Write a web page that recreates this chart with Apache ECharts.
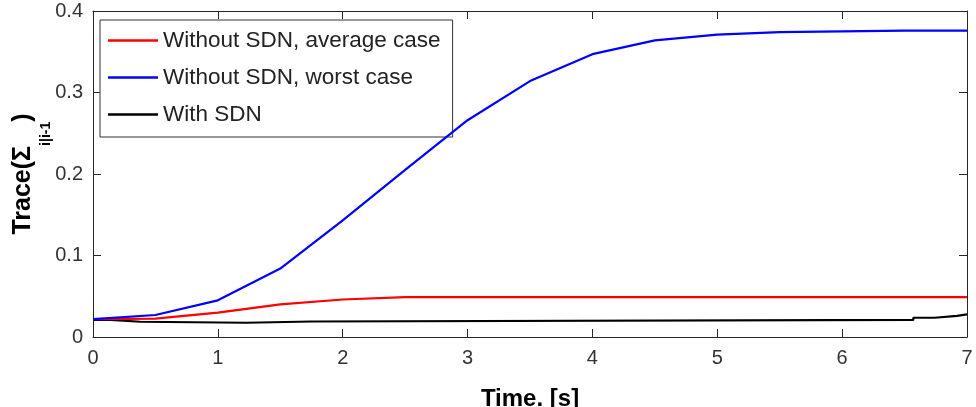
<!DOCTYPE html>
<html>
<head>
<meta charset="utf-8">
<script src="https://cdn.jsdelivr.net/npm/echarts@6/dist/echarts.min.js"></script>
<style>
  html, body { margin: 0; padding: 0; background: #fff; }
  #chart { width: 976px; height: 407px; }
</style>
</head>
<body>
<div id="chart"></div>
<script>
// Time grid [s] for the two "without SDN" runs
const timeSteps = [0, 0.5, 1, 1.5, 2, 2.5, 3, 3.5, 4, 4.5, 5, 5.5, 6, 6.5, 7];
const avgCase   = [0.022, 0.0225, 0.030, 0.040, 0.046, 0.049, 0.049, 0.049, 0.049, 0.049, 0.049, 0.049, 0.049, 0.049, 0.049];
const worstCase = [0.022, 0.027, 0.045, 0.084, 0.143, 0.205, 0.266, 0.314, 0.347, 0.364, 0.371, 0.374, 0.375, 0.376, 0.376];

// With SDN: piecewise-constant trace (value holds until next switch time)
const sdnTimes  = [0, 0.14, 0.38, 1.23, 1.75, 6.57, 6.74, 6.92, 7];
const sdnValues = [0.021, 0.0187, 0.0175, 0.019, 0.021, 0.0236, 0.026, 0.0277, 0.0277];

const xTicks = [0, 1, 2, 3, 4, 5, 6, 7];
const yTicks = [0, 0.1, 0.2, 0.3, 0.4];

const seriesNames = ['Without SDN, average case', 'Without SDN, worst case', 'With SDN'];

const pair = (xs, ys) => xs.map((x, i) => [x, ys[i]]);

const axisColor = '#262626';
const textFont = "'Liberation Sans', Arial, Helvetica, sans-serif";

// Boxed axes with inward ticks on all four sides
const boxAxis = () => ({
  axisLine: { show: true, onZero: false, lineStyle: { color: axisColor, width: 1 } },
  axisTick: { show: true, inside: true, length: 8, lineStyle: { color: axisColor } },
  splitLine: { show: false }
});

const chart = echarts.init(document.getElementById('chart'), null, { renderer: 'canvas' });

chart.setOption({
  animation: false,
  backgroundColor: '#fff',
  grid: { left: 93, right: 9, top: 11, bottom: 70, containLabel: false, outerBoundsMode: 'none' },
  xAxis: [
    Object.assign(boxAxis(), {
      type: 'value', position: 'bottom',
      min: xTicks[0], max: xTicks[xTicks.length - 1], interval: 1,
      name: 'Time. [s]', nameLocation: 'middle', nameGap: 50, nameMoveOverlap: false,
      nameTextStyle: { fontFamily: textFont, fontSize: 24, fontWeight: 'bold', color: '#000' },
      axisLabel: { show: true, margin: 11, fontFamily: textFont, fontSize: 20, color: '#333' }
    }),
    Object.assign(boxAxis(), {
      type: 'value', position: 'top',
      min: xTicks[0], max: xTicks[xTicks.length - 1], interval: 1,
      axisLabel: { show: false }
    })
  ],
  yAxis: [
    Object.assign(boxAxis(), {
      type: 'value', position: 'left',
      min: yTicks[0], max: yTicks[yTicks.length - 1], interval: 0.1,
      name: '{a|Trace(Σ}{b|i|i-1}{a|)}', nameLocation: 'middle', nameGap: 40, nameRotate: 90,
      nameMoveOverlap: false,
      nameTextStyle: {
        rich: {
          a: { fontFamily: textFont, fontSize: 25, fontWeight: 'bold', color: '#000' },
          b: { fontFamily: textFont, fontSize: 14, fontWeight: 'bold', color: '#000', padding: [46, 0, 0, 0] }
        }
      },
      axisLabel: { show: true, margin: 10, fontFamily: textFont, fontSize: 20, color: '#333' }
    }),
    Object.assign(boxAxis(), {
      type: 'value', position: 'right',
      min: yTicks[0], max: yTicks[yTicks.length - 1], interval: 0.1,
      axisLabel: { show: false }
    })
  ],
  legend: {
    orient: 'vertical', left: 100, top: 20,
    data: seriesNames,
    icon: 'rect', itemWidth: 50, itemHeight: 2.5, itemGap: 14,
    padding: [9, 12, 11, 8],
    backgroundColor: '#fff', borderColor: '#333', borderWidth: 1,
    textStyle: { fontFamily: textFont, fontSize: 22.5, color: '#222' }
  },
  series: [
    {
      name: seriesNames[0], type: 'line', data: pair(timeSteps, avgCase),
      symbol: 'none', lineStyle: { color: '#ff0000', width: 2.2 }, itemStyle: { color: '#ff0000' }, z: 3
    },
    {
      name: seriesNames[1], type: 'line', data: pair(timeSteps, worstCase),
      symbol: 'none', lineStyle: { color: '#0000ff', width: 2.2 }, itemStyle: { color: '#0000ff' }, z: 4
    },
    {
      name: seriesNames[2], type: 'line', step: 'end', data: pair(sdnTimes, sdnValues),
      symbol: 'none', lineStyle: { color: '#000', width: 2.2 }, itemStyle: { color: '#000' }, z: 2
    }
  ]
});
</script>
</body>
</html>
